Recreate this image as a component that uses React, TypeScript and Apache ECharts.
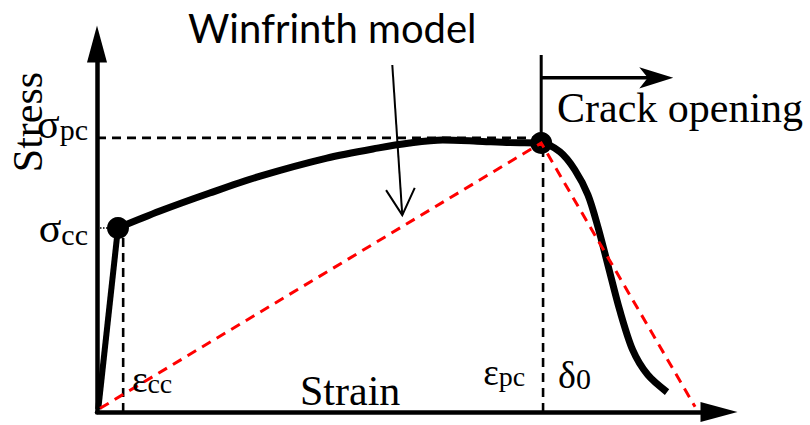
import React, { useEffect, useRef } from 'react';
import * as echarts from 'echarts';

const SERIF = '"Liberation Serif", "Times New Roman", serif';
const SANS = 'Lato, "Open Sans", sans-serif';

// Schematic units: strain on x (0-100), stress on y (0-100)
const elasticBranch: number[][] = [[0.2, 0.8], [3.37, 50.0]];
const winfrinthCurve: number[][] = [
  [3.37, 50.0], [10.1, 54.6], [18.1, 59.5], [26.2, 64.1], [36.9, 69.0], [45.0, 71.7],
  [50.2, 73.1], [55.5, 73.9], [61.0, 73.6], [66.3, 73.2], [71.3, 73.1],
  [74.3, 70.7], [76.7, 65.8], [78.8, 59.0], [80.4, 50.3], [82.0, 40.0],
  [83.9, 27.7], [86.0, 16.8], [88.4, 10.1], [91.5, 5.4],
];
const secantLine: number[][] = [[0.5, 1.0], [71.3, 73.1], [96.0, 1.4]];
const keyPoints: number[][] = [[3.37, 50.0], [71.3, 73.1]];

const sigmaCC = 50.0;
const sigmaPC = 74.5;
const epsCC = 4.2;
const epsPC = 71.6;
const peakStrain = 71.3;

const epsCCLine: number[][] = [[epsCC, 0], [epsCC, sigmaCC]];
const epsPCLine: number[][] = [[epsPC, 0], [epsPC, 73.1]];
const sigmaPCLine: number[][] = [[0, sigmaPC], [peakStrain, sigmaPC]];
const sigmaCCLeader: number[][] = [[0, sigmaCC], [3.37, sigmaCC]];

const crackLine: number[][] = [[peakStrain, 73.1], [peakStrain, 97.0]];
const crackArrow: number[][] = [[peakStrain, 90.8], [90.0, 90.8]];
const crackArrowTip: number[] = [92.5, 90.8];
const modelArrowShaft: number[][] = [[47.4, 94.3], [49.0, 53.5]];
const modelArrowHead: number[][] = [[46.4, 60.3], [49.0, 53.5], [51.0, 60.9]];

const stressTickValues = [sigmaCC, sigmaPC];
const stressTickSubs = ['cc', 'pc'];
const strainLabelSymbols = ['ε', 'ε', 'δ'];
const strainLabelSubs = ['cc', 'pc', '0'];
const strainLabelAnchors: number[][] = [[5.6, 8.7], [62.0, 10.6], [74.0, 10.1]];

const lineSeries = (data: number[][], width: number, color: string, type: any, z: number) => ({
  type: 'line',
  data,
  symbol: 'none',
  showSymbol: false,
  silent: true,
  lineStyle: { width, color, type, cap: 'butt', join: 'miter', opacity: 1 },
  z,
});

export default function App() {
  const ref = useRef<HTMLDivElement>(null);
  useEffect(() => {
    if (!ref.current) return;
    const chart = echarts.init(ref.current, null, { renderer: 'svg' });
    const option: any = {
      animation: false,
      backgroundColor: '#ffffff',
      grid: { left: 97, right: 90, top: 44, bottom: 13, containLabel: false, outerBoundsMode: 'none' },
      xAxis: {
        type: 'value', min: 0, max: 100,
        axisLine: {
          show: true, onZero: false, symbol: ['none', 'triangle'], symbolSize: [20, 37], symbolOffset: [0, -1],
          lineStyle: { color: '#000', width: 4.5 },
        },
        axisTick: { show: false }, axisLabel: { show: false }, splitLine: { show: false },
      },
      yAxis: {
        type: 'value', min: 0, max: 100,
        axisLine: {
          show: true, onZero: false, symbol: ['none', 'triangle'], symbolSize: [20, 37], symbolOffset: [0, 0],
          lineStyle: { color: '#000', width: 4.5 },
        },
        axisTick: { show: false }, splitLine: { show: false },
        axisLabel: {
          show: true,
          customValues: stressTickValues,
          margin: 9,
          color: '#000',
          formatter: (v: number) => {
            const i = stressTickValues.findIndex((t) => Math.abs(t - v) < 1e-6);
            if (i < 0) return '';
            const txt = '{a|σ}{s|' + stressTickSubs[i] + '}';
            return i === 1 ? txt + '\n{g| }' : txt;
          },
          rich: {
            a: { fontSize: 42, lineHeight: 42, fontFamily: SERIF, color: '#000' },
            s: { fontSize: 30, lineHeight: 22, verticalAlign: 'bottom', fontFamily: SERIF, color: '#000' },
            g: { fontSize: 10, lineHeight: 28 },
          },
        },
      },
      series: [
        lineSeries(epsCCLine, 2.6, '#000', [9, 6], 2),
        lineSeries(epsPCLine, 2.6, '#000', [9, 6], 2),
        lineSeries(sigmaPCLine, 2.6, '#000', [9, 6], 2),
        lineSeries(sigmaCCLeader, 1.5, '#000', 'dotted', 2),
        lineSeries(crackLine, 3, '#000', 'solid', 2),
        lineSeries(crackArrow, 3.5, '#000', 'solid', 2),
        lineSeries(modelArrowShaft, 2, '#000', 'solid', 6),
        lineSeries(modelArrowHead, 2, '#000', 'solid', 6),
        lineSeries(elasticBranch, 6, '#000', 'solid', 3),
        { ...lineSeries(winfrinthCurve, 7, '#000', 'solid', 3), smooth: 0.3, smoothMonotone: 'none' },
        {
          type: 'scatter', data: keyPoints, symbol: 'circle', symbolSize: 22, silent: true,
          itemStyle: { color: '#000', opacity: 1 }, z: 4,
        },
        lineSeries(secantLine, 3, '#ff0000', [10, 7], 5),
        {
          type: 'scatter', data: [crackArrowTip], symbol: 'arrow', symbolSize: [16, 34], symbolRotate: -90,
          silent: true, itemStyle: { color: '#000', opacity: 1 }, z: 4,
        },
        {
          type: 'scatter', silent: true, symbolSize: 1, itemStyle: { color: 'rgba(0,0,0,0)', opacity: 1 }, z: 7,
          data: strainLabelAnchors.map((p, i) => ({ value: p, name: String(i) })),
          label: {
            show: true, position: 'inside', align: 'left', verticalAlign: 'middle', color: '#000', opacity: 1,
            formatter: (p: any) => {
              const i = p.dataIndex;
              return i === 2
                ? '{d|' + strainLabelSymbols[i] + '}{ds|' + strainLabelSubs[i] + '}'
                : '{e|' + strainLabelSymbols[i] + '}{es|' + strainLabelSubs[i] + '}';
            },
            rich: {
              e: { fontSize: 37, lineHeight: 36, fontFamily: SERIF, color: '#000' },
              es: { fontSize: 28, lineHeight: 20, verticalAlign: 'bottom', fontFamily: SERIF, color: '#000' },
              d: { fontSize: 38, lineHeight: 38, fontFamily: SERIF, color: '#000' },
              ds: { fontSize: 30, lineHeight: 14, verticalAlign: 'bottom', fontFamily: SERIF, color: '#000' },
            },
          },
        },
      ],
      graphic: [
        {
          type: 'text', x: 188, y: 28, silent: true,
          style: { text: 'Winfrinth model', fontSize: 40, fontFamily: SANS, fill: '#000', textAlign: 'left', align: 'left', textVerticalAlign: 'middle', verticalAlign: 'middle' },
        },
        {
          type: 'text', x: 557, y: 108, silent: true,
          style: { text: 'Crack opening', fontSize: 42, fontFamily: SERIF, fill: '#000', textAlign: 'left', align: 'left', textVerticalAlign: 'middle', verticalAlign: 'middle' },
        },
        {
          type: 'text', x: 300, y: 391, silent: true,
          style: { text: 'Strain', fontSize: 42, fontFamily: SERIF, fill: '#000', textAlign: 'left', align: 'left', textVerticalAlign: 'middle', verticalAlign: 'middle' },
        },
        {
          type: 'text', x: 28, y: 122, rotation: Math.PI / 2, silent: true,
          style: { text: 'Stress', fontSize: 42, fontFamily: SERIF, fill: '#000', textAlign: 'center', align: 'center', textVerticalAlign: 'middle', verticalAlign: 'middle' },
        },
      ],
    };
    chart.setOption(option);
    return () => chart.dispose();
  }, []);
  return (
    <div
      ref={ref}
      style={{ position: 'fixed', left: 0, top: 0, width: 810, height: 425, background: '#fff' }}
    />
  );
}
